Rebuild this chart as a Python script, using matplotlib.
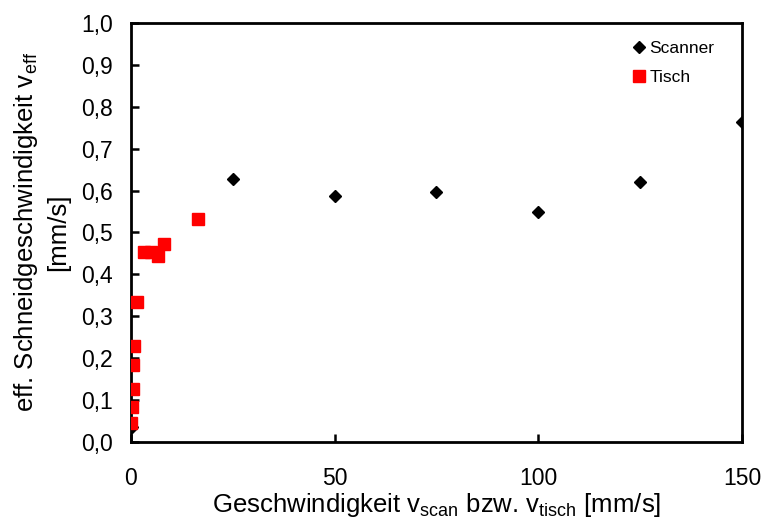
import matplotlib
matplotlib.use("Agg")
import matplotlib.pyplot as plt
from matplotlib.ticker import FuncFormatter, MultipleLocator

plt.rcParams["font.family"] = ["Liberation Sans", "DejaVu Sans"]
plt.rcParams["mathtext.fontset"] = "custom"
plt.rcParams["mathtext.rm"] = "Liberation Sans"
plt.rcParams["mathtext.it"] = "Liberation Sans"

# Scanner: scan speed [mm/s] vs. effective cutting speed [mm/s]
scan_speed = [0.2, 25, 50, 75, 100, 125, 150]
scan_veff = [0.035, 0.627, 0.588, 0.597, 0.548, 0.620, 0.763]

# Tisch: table speed [mm/s] vs. effective cutting speed [mm/s]
tisch_speed = [0.1, 0.25, 0.5, 0.55, 0.7, 1.5, 3.2, 4.9, 6.6, 8.1, 16.4]
tisch_veff = [0.045, 0.084, 0.126, 0.184, 0.229, 0.334, 0.453, 0.453, 0.444, 0.473, 0.532]

fig = plt.figure(figsize=(7.65, 5.2), dpi=100)
ax = fig.add_axes([0.171, 0.150, 0.799, 0.806])

ax.plot(scan_speed, scan_veff, linestyle="none", marker="D", color="black",
        markersize=6, label="Scanner", zorder=3)
ax.plot(tisch_speed, tisch_veff, linestyle="none", marker="s", color="#FF0000",
        markersize=8.5, label="Tisch", zorder=4)

ax.set_xlim(0, 150)
ax.set_ylim(0, 1.0)
ax.xaxis.set_major_locator(MultipleLocator(50))
ax.yaxis.set_major_locator(MultipleLocator(0.1))
ax.yaxis.set_major_formatter(FuncFormatter(lambda v, p: f"{v:.1f}".replace(".", ",")))

for s in ax.spines.values():
    s.set_linewidth(2.0)
ax.tick_params(direction="in", length=6, width=1.8, labelsize=16.5)
ax.tick_params(axis="y", pad=13)
ax.tick_params(axis="x", pad=18)

ax.set_xlabel(r"Geschwindigkeit v$_{\mathrm{scan}}$ bzw. v$_{\mathrm{tisch}}$ [mm/s]",
              fontsize=18.5, labelpad=1)
ax.set_ylabel("eff. Schneidgeschwindigkeit v$_{\\mathrm{eff}}$\n[mm/s]",
              fontsize=18.5, labelpad=8, linespacing=1.3)

leg = ax.legend(loc="upper right", frameon=False, fontsize=12.5, handlelength=0.6,
                handletextpad=0.3, borderaxespad=0.5, labelspacing=0.8,
                bbox_to_anchor=(0.98, 0.995))

fig.savefig("out.png", dpi=100)
